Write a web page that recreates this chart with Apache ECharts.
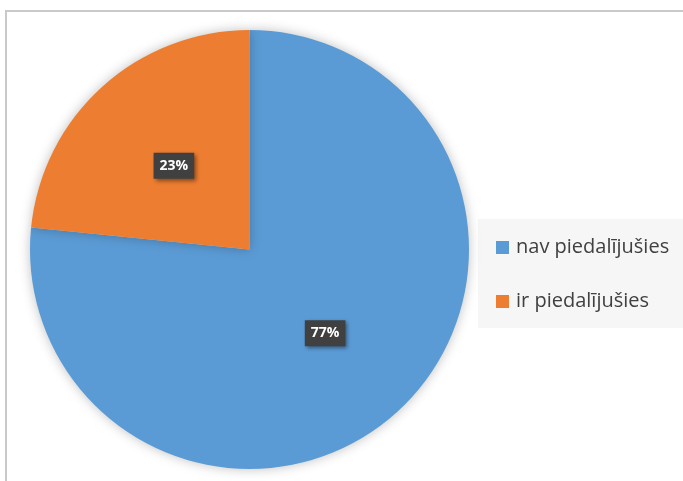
<!DOCTYPE html>
<html>
<head>
<meta charset="utf-8">
<script src="https://cdn.jsdelivr.net/npm/echarts@6/dist/echarts.min.js"></script>
<style>
html,body{margin:0;padding:0;background:#fff;}
#main{width:683px;height:481px;}
</style>
</head>
<body>
<div id="main"></div>
<script>
var categories = ['nav piedalījušies', 'ir piedalījušies'];
var values = [76.6, 23.4];
var colors = ['#5B9BD5', '#ED7D31'];

var chart = echarts.init(document.getElementById('main'), null, {renderer: 'canvas'});
chart.setOption({
  animation: false,
  color: colors,
  graphic: [
    {type: 'rect', shape: {x: 6, y: 11, width: 720, height: 520}, style: {fill: 'none', stroke: '#c9c9c9', lineWidth: 2}, z: -10},
    {type: 'rect', shape: {x: 478, y: 219, width: 220, height: 109}, style: {fill: '#f6f6f6'}, z: -5}
  ],
  legend: {
    orient: 'vertical',
    left: 496,
    top: 235.5,
    padding: 0,
    itemWidth: 13,
    itemHeight: 13,
    itemGap: 30,
    icon: 'rect',
    data: categories,
    textStyle: {fontFamily: 'Open Sans', fontSize: 20, color: '#404040', lineHeight: 24, padding: [0, 0, 0, 2]}
  },
  series: [{
    type: 'pie',
    center: [249.5, 249.5],
    radius: 219.5,
    startAngle: 90,
    clockwise: true,
    data: categories.map(function (c, i) { return {name: c, value: values[i]}; }),
    itemStyle: {shadowBlur: 12, shadowColor: 'rgba(0,0,0,0.25)'},
    emphasis: {disabled: true},
    label: {
      position: 'inside',
      formatter: function (p) { return Math.round(p.percent) + '%'; },
      color: '#fff',
      fontFamily: 'Open Sans',
      fontWeight: 'bold',
      fontSize: 14,
      lineHeight: 19,
      backgroundColor: '#404040',
      padding: [4, 6, 3, 6],
      shadowColor: 'rgba(0,0,0,0.45)',
      shadowBlur: 4,
      shadowOffsetX: 2,
      shadowOffsetY: 2
    },
    labelLine: {show: false}
  }]
});
</script>
</body>
</html>
